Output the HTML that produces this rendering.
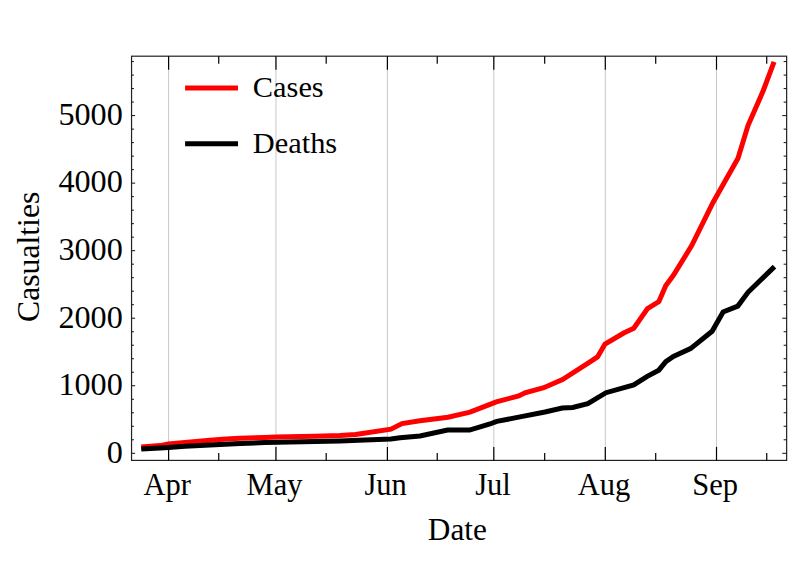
<!DOCTYPE html>
<html><head><meta charset="utf-8"><title>Casualties</title>
<style>
html,body{margin:0;padding:0;background:#fff;}
body{width:800px;height:563px;overflow:hidden;}
svg{display:block;}
text{font-family:"Liberation Serif",serif;fill:#000;}
</style></head><body>
<svg width="800" height="563" viewBox="0 0 800 563">
<rect width="800" height="563" fill="#fff"/>
<line x1="168.60" y1="56.2" x2="168.60" y2="460.4" stroke="#c9c9c9" stroke-width="1"/>
<line x1="275.95" y1="56.2" x2="275.95" y2="460.4" stroke="#c9c9c9" stroke-width="1"/>
<line x1="387.40" y1="56.2" x2="387.40" y2="460.4" stroke="#c9c9c9" stroke-width="1"/>
<line x1="493.80" y1="56.2" x2="493.80" y2="460.4" stroke="#c9c9c9" stroke-width="1"/>
<line x1="605.30" y1="56.2" x2="605.30" y2="460.4" stroke="#c9c9c9" stroke-width="1"/>
<line x1="716.50" y1="56.2" x2="716.50" y2="460.4" stroke="#c9c9c9" stroke-width="1"/>
<polyline points="141.25,446.90 160.00,445.60 168.40,444.10 185.00,442.50 210.00,440.30 226.00,438.90 240.00,438.20 265.00,437.40 276.00,436.90 315.00,436.25 340.00,435.60 355.60,434.50 391.00,429.20 402.00,423.60 420.00,420.80 448.00,417.25 470.00,412.20 490.00,404.40 496.25,401.90 518.75,395.90 525.00,392.80 543.75,387.70 562.50,379.50 590.00,361.90 597.50,356.90 605.00,344.10 623.75,333.00 633.80,328.30 647.50,308.60 658.90,301.60 665.70,285.80 673.40,275.30 691.70,245.60 712.90,202.70 738.00,158.20 748.00,125.60 763.30,90.50 774.06,61.90" fill="none" stroke="#ff0000" stroke-width="5" stroke-linejoin="miter"/>
<polyline points="141.25,449.10 160.00,448.00 168.40,447.50 185.00,446.25 210.00,445.00 240.00,443.40 265.00,442.60 315.00,441.56 340.00,440.90 365.00,440.10 391.00,439.06 400.00,437.70 420.00,436.00 447.50,430.00 469.60,430.10 490.00,424.00 496.75,421.40 520.00,416.90 545.00,412.00 562.25,408.00 572.75,407.50 587.75,403.60 606.00,392.70 633.75,384.90 647.25,376.30 658.80,370.20 665.80,361.60 673.40,356.40 690.50,348.60 712.10,331.30 723.10,312.00 737.80,306.10 748.00,292.30 774.50,266.60" fill="none" stroke="#000" stroke-width="5" stroke-linejoin="miter"/>
<rect x="131.55" y="56.2" width="655.0899999999999" height="404.2" fill="none" stroke="#222" stroke-width="1.2"/>
<line x1="168.60" y1="460.4" x2="168.60" y2="446.9" stroke="#000" stroke-width="1.2"/>
<line x1="168.60" y1="56.2" x2="168.60" y2="69.7" stroke="#000" stroke-width="1.2"/>
<line x1="275.95" y1="460.4" x2="275.95" y2="446.9" stroke="#000" stroke-width="1.2"/>
<line x1="275.95" y1="56.2" x2="275.95" y2="69.7" stroke="#000" stroke-width="1.2"/>
<line x1="387.40" y1="460.4" x2="387.40" y2="446.9" stroke="#000" stroke-width="1.2"/>
<line x1="387.40" y1="56.2" x2="387.40" y2="69.7" stroke="#000" stroke-width="1.2"/>
<line x1="493.80" y1="460.4" x2="493.80" y2="446.9" stroke="#000" stroke-width="1.2"/>
<line x1="493.80" y1="56.2" x2="493.80" y2="69.7" stroke="#000" stroke-width="1.2"/>
<line x1="605.30" y1="460.4" x2="605.30" y2="446.9" stroke="#000" stroke-width="1.2"/>
<line x1="605.30" y1="56.2" x2="605.30" y2="69.7" stroke="#000" stroke-width="1.2"/>
<line x1="716.50" y1="460.4" x2="716.50" y2="446.9" stroke="#000" stroke-width="1.2"/>
<line x1="716.50" y1="56.2" x2="716.50" y2="69.7" stroke="#000" stroke-width="1.2"/>
<line x1="218.74" y1="460.4" x2="218.74" y2="452.9" stroke="#000" stroke-width="1.2"/>
<line x1="218.74" y1="56.2" x2="218.74" y2="63.7" stroke="#000" stroke-width="1.2"/>
<line x1="326.19" y1="460.4" x2="326.19" y2="452.9" stroke="#000" stroke-width="1.2"/>
<line x1="326.19" y1="56.2" x2="326.19" y2="63.7" stroke="#000" stroke-width="1.2"/>
<line x1="437.23" y1="460.4" x2="437.23" y2="452.9" stroke="#000" stroke-width="1.2"/>
<line x1="437.23" y1="56.2" x2="437.23" y2="63.7" stroke="#000" stroke-width="1.2"/>
<line x1="544.68" y1="460.4" x2="544.68" y2="452.9" stroke="#000" stroke-width="1.2"/>
<line x1="544.68" y1="56.2" x2="544.68" y2="63.7" stroke="#000" stroke-width="1.2"/>
<line x1="655.71" y1="460.4" x2="655.71" y2="452.9" stroke="#000" stroke-width="1.2"/>
<line x1="655.71" y1="56.2" x2="655.71" y2="63.7" stroke="#000" stroke-width="1.2"/>
<line x1="766.74" y1="460.4" x2="766.74" y2="452.9" stroke="#000" stroke-width="1.2"/>
<line x1="766.74" y1="56.2" x2="766.74" y2="63.7" stroke="#000" stroke-width="1.2"/>
<line x1="131.55" y1="453.30" x2="135.15" y2="453.30" stroke="#111" stroke-width="1"/>
<line x1="786.64" y1="453.30" x2="782.24" y2="453.30" stroke="#111" stroke-width="1"/>
<line x1="131.55" y1="439.79" x2="133.95000000000002" y2="439.79" stroke="#111" stroke-width="1"/>
<line x1="786.64" y1="439.79" x2="783.64" y2="439.79" stroke="#111" stroke-width="1"/>
<line x1="131.55" y1="426.28" x2="133.95000000000002" y2="426.28" stroke="#111" stroke-width="1"/>
<line x1="786.64" y1="426.28" x2="783.64" y2="426.28" stroke="#111" stroke-width="1"/>
<line x1="131.55" y1="412.78" x2="133.95000000000002" y2="412.78" stroke="#111" stroke-width="1"/>
<line x1="786.64" y1="412.78" x2="783.64" y2="412.78" stroke="#111" stroke-width="1"/>
<line x1="131.55" y1="399.27" x2="133.95000000000002" y2="399.27" stroke="#111" stroke-width="1"/>
<line x1="786.64" y1="399.27" x2="783.64" y2="399.27" stroke="#111" stroke-width="1"/>
<line x1="131.55" y1="385.76" x2="135.15" y2="385.76" stroke="#111" stroke-width="1"/>
<line x1="786.64" y1="385.76" x2="782.24" y2="385.76" stroke="#111" stroke-width="1"/>
<line x1="131.55" y1="372.25" x2="133.95000000000002" y2="372.25" stroke="#111" stroke-width="1"/>
<line x1="786.64" y1="372.25" x2="783.64" y2="372.25" stroke="#111" stroke-width="1"/>
<line x1="131.55" y1="358.74" x2="133.95000000000002" y2="358.74" stroke="#111" stroke-width="1"/>
<line x1="786.64" y1="358.74" x2="783.64" y2="358.74" stroke="#111" stroke-width="1"/>
<line x1="131.55" y1="345.24" x2="133.95000000000002" y2="345.24" stroke="#111" stroke-width="1"/>
<line x1="786.64" y1="345.24" x2="783.64" y2="345.24" stroke="#111" stroke-width="1"/>
<line x1="131.55" y1="331.73" x2="133.95000000000002" y2="331.73" stroke="#111" stroke-width="1"/>
<line x1="786.64" y1="331.73" x2="783.64" y2="331.73" stroke="#111" stroke-width="1"/>
<line x1="131.55" y1="318.22" x2="135.15" y2="318.22" stroke="#111" stroke-width="1"/>
<line x1="786.64" y1="318.22" x2="782.24" y2="318.22" stroke="#111" stroke-width="1"/>
<line x1="131.55" y1="304.71" x2="133.95000000000002" y2="304.71" stroke="#111" stroke-width="1"/>
<line x1="786.64" y1="304.71" x2="783.64" y2="304.71" stroke="#111" stroke-width="1"/>
<line x1="131.55" y1="291.20" x2="133.95000000000002" y2="291.20" stroke="#111" stroke-width="1"/>
<line x1="786.64" y1="291.20" x2="783.64" y2="291.20" stroke="#111" stroke-width="1"/>
<line x1="131.55" y1="277.70" x2="133.95000000000002" y2="277.70" stroke="#111" stroke-width="1"/>
<line x1="786.64" y1="277.70" x2="783.64" y2="277.70" stroke="#111" stroke-width="1"/>
<line x1="131.55" y1="264.19" x2="133.95000000000002" y2="264.19" stroke="#111" stroke-width="1"/>
<line x1="786.64" y1="264.19" x2="783.64" y2="264.19" stroke="#111" stroke-width="1"/>
<line x1="131.55" y1="250.68" x2="135.15" y2="250.68" stroke="#111" stroke-width="1"/>
<line x1="786.64" y1="250.68" x2="782.24" y2="250.68" stroke="#111" stroke-width="1"/>
<line x1="131.55" y1="237.17" x2="133.95000000000002" y2="237.17" stroke="#111" stroke-width="1"/>
<line x1="786.64" y1="237.17" x2="783.64" y2="237.17" stroke="#111" stroke-width="1"/>
<line x1="131.55" y1="223.66" x2="133.95000000000002" y2="223.66" stroke="#111" stroke-width="1"/>
<line x1="786.64" y1="223.66" x2="783.64" y2="223.66" stroke="#111" stroke-width="1"/>
<line x1="131.55" y1="210.16" x2="133.95000000000002" y2="210.16" stroke="#111" stroke-width="1"/>
<line x1="786.64" y1="210.16" x2="783.64" y2="210.16" stroke="#111" stroke-width="1"/>
<line x1="131.55" y1="196.65" x2="133.95000000000002" y2="196.65" stroke="#111" stroke-width="1"/>
<line x1="786.64" y1="196.65" x2="783.64" y2="196.65" stroke="#111" stroke-width="1"/>
<line x1="131.55" y1="183.14" x2="135.15" y2="183.14" stroke="#111" stroke-width="1"/>
<line x1="786.64" y1="183.14" x2="782.24" y2="183.14" stroke="#111" stroke-width="1"/>
<line x1="131.55" y1="169.63" x2="133.95000000000002" y2="169.63" stroke="#111" stroke-width="1"/>
<line x1="786.64" y1="169.63" x2="783.64" y2="169.63" stroke="#111" stroke-width="1"/>
<line x1="131.55" y1="156.12" x2="133.95000000000002" y2="156.12" stroke="#111" stroke-width="1"/>
<line x1="786.64" y1="156.12" x2="783.64" y2="156.12" stroke="#111" stroke-width="1"/>
<line x1="131.55" y1="142.62" x2="133.95000000000002" y2="142.62" stroke="#111" stroke-width="1"/>
<line x1="786.64" y1="142.62" x2="783.64" y2="142.62" stroke="#111" stroke-width="1"/>
<line x1="131.55" y1="129.11" x2="133.95000000000002" y2="129.11" stroke="#111" stroke-width="1"/>
<line x1="786.64" y1="129.11" x2="783.64" y2="129.11" stroke="#111" stroke-width="1"/>
<line x1="131.55" y1="115.60" x2="135.15" y2="115.60" stroke="#111" stroke-width="1"/>
<line x1="786.64" y1="115.60" x2="782.24" y2="115.60" stroke="#111" stroke-width="1"/>
<line x1="131.55" y1="102.09" x2="133.95000000000002" y2="102.09" stroke="#111" stroke-width="1"/>
<line x1="786.64" y1="102.09" x2="783.64" y2="102.09" stroke="#111" stroke-width="1"/>
<line x1="131.55" y1="88.58" x2="133.95000000000002" y2="88.58" stroke="#111" stroke-width="1"/>
<line x1="786.64" y1="88.58" x2="783.64" y2="88.58" stroke="#111" stroke-width="1"/>
<line x1="131.55" y1="75.08" x2="133.95000000000002" y2="75.08" stroke="#111" stroke-width="1"/>
<line x1="786.64" y1="75.08" x2="783.64" y2="75.08" stroke="#111" stroke-width="1"/>
<line x1="131.55" y1="61.57" x2="133.95000000000002" y2="61.57" stroke="#111" stroke-width="1"/>
<line x1="786.64" y1="61.57" x2="783.64" y2="61.57" stroke="#111" stroke-width="1"/>
<text x="122.8" y="462.60" font-size="32.2" text-anchor="end">0</text>
<text x="122.8" y="395.06" font-size="32.2" text-anchor="end">1000</text>
<text x="122.8" y="327.52" font-size="32.2" text-anchor="end">2000</text>
<text x="122.8" y="259.98" font-size="32.2" text-anchor="end">3000</text>
<text x="122.8" y="192.44" font-size="32.2" text-anchor="end">4000</text>
<text x="122.8" y="124.90" font-size="32.2" text-anchor="end">5000</text>
<text x="167.10" y="494.6" font-size="30.5" text-anchor="middle">Apr</text>
<text x="274.55" y="494.6" font-size="30.5" text-anchor="middle">May</text>
<text x="385.58" y="494.6" font-size="30.5" text-anchor="middle">Jun</text>
<text x="493.03" y="494.6" font-size="30.5" text-anchor="middle">Jul</text>
<text x="604.07" y="494.6" font-size="30.5" text-anchor="middle">Aug</text>
<text x="715.10" y="494.6" font-size="30.5" text-anchor="middle">Sep</text>
<text x="457.4" y="540.2" font-size="31.3" text-anchor="middle">Date</text>
<text transform="translate(39.2,256.8) rotate(-90)" font-size="31.7" text-anchor="middle">Casualties</text>
<line x1="185.1" y1="87.9" x2="238" y2="87.9" stroke="#ff0000" stroke-width="5"/>
<line x1="185.1" y1="143.8" x2="238" y2="143.8" stroke="#000" stroke-width="5"/>
<text x="252.8" y="97.1" font-size="30.4">Cases</text>
<text x="252.8" y="153.4" font-size="30.4">Deaths</text>
</svg>
</body></html>
